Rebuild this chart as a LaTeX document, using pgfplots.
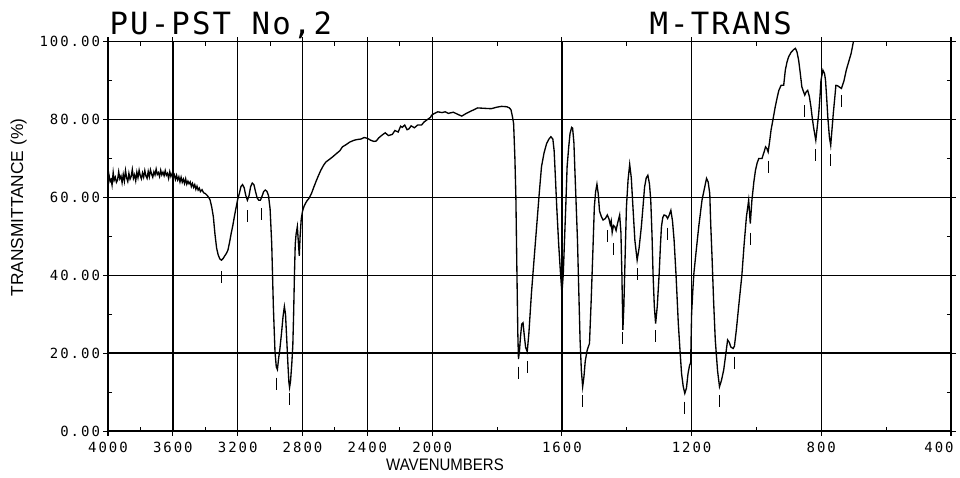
\documentclass[border=0pt]{standalone}
\usepackage{fontspec}
\setmainfont{Liberation Sans}
\newfontfamily\plotmono{DejaVu Sans Mono}[LetterSpace=14]
\newfontfamily\titlefont{DejaVu Sans Mono}[LetterSpace=7]
\newfontfamily\xlabfont{Liberation Sans}[FakeStretch=0.9]
\usepackage{pgfplots}
\pgfplotsset{compat=1.18}
\begin{document}
\begin{tikzpicture}
\begin{axis}[
  scale only axis, width=632.25pt, height=292pt,
  x coord trafo/.code={\pgfmathparse{ifthenelse(#1>2000,4000-#1,6000-2*#1)}},
  xmin=4000, xmax=400, ymin=0, ymax=100,
  enlargelimits=false,
  xtick={4000,3600,3200,2800,2400,2000,1600,1200,800,400},
  xticklabels={4000,3600,3200,2800,2400,2000,1600,1200,800,\makebox[0pt][r]{400\hspace{-2pt}}},
  minor xtick={3800,3400,3000,2600,2200,1800,1400,1000,600},
  ytick={0,20,40,60,80,100},
  yticklabels={0.00,20.00,40.00,60.00,80.00,100.00},
  minor ytick={10,30,50,70,90},
  /pgf/number format/assume math mode=true,
  tick label style={font=\fontsize{10.5}{12}\plotmono},
  tick align=outside, major tick length=3.5pt, minor tick length=-3pt,
  tick style={black, line width=0.8pt},
  grid=major, major grid style={black, line width=1.05pt},
  axis line style={black, line width=1.1pt},
  xticklabel style={yshift=-1pt},
  yticklabel style={xshift=1pt},
  clip=true,
]
\addplot[black, line width=1pt] coordinates {
(4000,63.6) (3994,65.8) (3987,64.1) (3981,64.6) (3975,63.2) (3968,66.4) (3962,64.4) (3955,65.2) (3948,63.9) (3941,64.5)
(3934,66.6) (3927,64.8) (3920,65.5) (3913,63.8) (3906,65.9) (3899,64.2) (3892,66.9) (3885,65.0) (3878,64.1) (3871,66.2)
(3864,64.7) (3857,65.4) (3850,67.2) (3843,64.9) (3836,65.8) (3829,64.3) (3822,66.5) (3815,65.1) (3808,67.0) (3801,65.6)
(3794,64.8) (3787,66.3) (3780,65.2) (3773,66.9) (3766,65.5) (3759,64.9) (3752,66.7) (3745,65.3) (3738,67.1) (3731,66.0)
(3724,65.2) (3717,66.6) (3710,65.8) (3703,67.3) (3696,65.9) (3689,66.4) (3682,65.4) (3675,67.0) (3668,65.8) (3661,66.5)
(3654,65.6) (3647,66.9) (3640,65.7) (3633,66.2) (3626,64.9) (3619,66.6) (3612,65.4) (3605,66.1) (3598,65.0) (3591,65.8)
(3584,64.6) (3577,65.7) (3570,64.5) (3563,65.3) (3556,64.0) (3549,65.2) (3542,63.9) (3535,64.7) (3528,63.6) (3521,64.8)
(3514,63.4) (3507,64.2) (3500,63.5) (3493,64.0) (3486,62.8) (3479,63.6) (3472,62.6) (3465,63.3) (3458,62.1) (3451,62.9)
(3444,61.9) (3437,62.4) (3430,61.5) (3420,62.0) (3410,61.2) (3400,61.0)
(3390,60.6) (3380,60.1) (3370,59.3) (3360,57.5) (3350,55.0) (3340,50.5) (3330,47.0) (3320,45.2) (3310,44.2)
(3300,43.9) (3290,44.3) (3280,45.0) (3270,45.6) (3260,46.5) (3250,48.5) (3240,50.8) (3230,52.8) (3220,55.2) (3210,57.4)
(3200,59.5) (3190,61.0) (3180,62.8) (3170,63.3) (3160,62.5) (3150,60.5) (3140,59.3) (3130,60.5) (3120,62.8) (3110,63.7)
(3100,63.3) (3090,61.5) (3080,59.9) (3070,59.3) (3060,59.3) (3050,60.3) (3040,61.5) (3030,61.9) (3020,61.6) (3010,60.5)
(3000,57.0) (2990,48.0) (2980,32.0) (2970,20.5) (2962,16.5) (2955,15.8) (2948,18.5) (2940,21.0) (2930,25.0) (2920,29.5)
(2912,32.0) (2905,30.0) (2898,24.0) (2890,17.0) (2884,12.5) (2880,11.2) (2874,12.8) (2866,17.5) (2860,22.0) (2855,30.0)
(2850,40.0) (2845,48.0) (2840,50.5) (2832,52.5) (2825,48.0) (2820,45.0) (2815,50.0) (2808,54.5) (2800,56.5) (2790,57.8)
(2775,59.0) (2760,59.8) (2745,61.0) (2730,62.7) (2715,64.3) (2700,65.8) (2687,67.0) (2670,68.3) (2656,69.1) (2640,69.6)
(2615,70.4) (2590,71.3) (2570,72.0) (2554,73.0) (2530,73.6) (2510,74.2) (2482,74.7) (2460,74.9) (2440,75.0) (2420,75.4)
(2400,75.2) (2380,74.7) (2360,74.4) (2345,74.5) (2330,75.3) (2310,76.0) (2290,76.6) (2270,75.9) (2246,76.2) (2230,77.2)
(2210,76.8) (2195,78.3) (2185,78.0) (2170,78.6) (2155,77.4) (2144,77.6) (2130,78.4) (2110,77.9) (2090,78.6) (2066,78.6)
(2050,79.4) (2030,80.0) (2010,80.6) (2004,81.1) (1995,81.5) (1983,82.0) (1970,81.8) (1960,82.0) (1950,81.6) (1935,81.9)
(1920,81.3) (1909,80.9) (1895,81.6) (1880,82.2) (1860,83.0) (1840,82.9) (1818,82.8) (1800,83.2) (1786,83.4) (1770,83.3)
(1762,83.0) (1757,82.5) (1752,80.5) (1749,79.0) (1745,70.0) (1742,60.0) (1739,42.0) (1736,25.0) (1734,18.5) (1731,20.5)
(1728,24.0) (1724,27.5) (1720,27.8) (1716,24.5) (1712,21.5) (1707,20.4) (1702,25.0) (1694,35.4) (1686,44.0) (1678,52.5)
(1670,61.0) (1663,67.9) (1655,71.5) (1647,73.9) (1640,75.0) (1634,75.6) (1628,75.0) (1624,72.0) (1620,65.0) (1616,57.6)
(1610,48.0) (1605,41.3) (1600,35.4) (1596,40.0) (1592,49.0) (1588,58.0) (1584,67.9) (1579,73.0) (1575,76.4) (1570,78.0)
(1567,77.8) (1563,74.0) (1560,67.0) (1556,58.0) (1552,49.0) (1548,36.0) (1544,23.4) (1540,15.5) (1536,11.4) (1532,14.0)
(1528,18.0) (1522,20.8) (1515,22.5) (1510,33.0) (1505,45.0) (1500,57.6) (1496,61.5) (1492,63.4) (1488,61.0) (1484,56.5)
(1478,55.0) (1473,54.2) (1466,54.6) (1460,55.5) (1455,54.5) (1451,53.0) (1448,54.0) (1445,51.0) (1441,52.8) (1437,52.5)
(1433,51.5) (1428,53.5) (1422,55.5) (1418,51.0) (1415,40.0) (1412,26.0) (1409,32.0) (1405,45.0) (1401,57.6) (1396,64.5)
(1391,68.5) (1386,65.0) (1381,57.6) (1375,49.0) (1368,43.9) (1362,47.0) (1355,52.5) (1350,57.5) (1345,62.7) (1340,65.0)
(1335,65.7) (1330,63.5) (1326,59.3) (1322,50.0) (1319,40.5) (1315,32.0) (1311,27.6) (1306,32.0) (1300,40.5) (1296,48.0)
(1293,52.5) (1289,54.8) (1285,55.5) (1279,55.3) (1274,54.6) (1269,55.5) (1264,56.7) (1259,54.0) (1254,49.0) (1248,40.0)
(1241,27.6) (1236,21.0) (1231,14.8) (1226,11.5) (1221,9.7) (1216,11.0) (1211,14.8) (1206,17.0) (1203,17.4) (1200,30.2)
(1196,36.5) (1193,40.5) (1185,47.0) (1178,52.5) (1168,59.3) (1160,62.5) (1154,64.9) (1149,64.0) (1144,61.0) (1141,53.0)
(1137,44.7) (1132,33.0) (1127,23.4) (1120,15.5) (1114,11.4) (1108,13.0) (1101,15.7) (1095,19.5) (1089,23.4) (1084,22.8)
(1079,21.6) (1072,21.2) (1068,21.8) (1062,26.0) (1055,31.9) (1045,40.0) (1038,48.0) (1031,55.0) (1024,59.3) (1019,53.3)
(1014,59.3) (1008,64.0) (1003,67.0) (998,68.8) (993,70.0) (983,70.0) (976,71.8) (972,73.0) (968,72.6) (964,71.7)
(960,74.0) (955,77.3) (948,80.5) (942,83.3) (936,85.7) (931,87.5) (924,88.8) (916,88.8) (911,92.7) (906,94.7)
(901,96.1) (893,97.3) (885,98.0) (880,98.3) (875,97.4) (870,95.3) (865,92.0) (860,88.4) (855,87.2) (851,86.3)
(846,87.2) (842,87.5) (837,86.0) (832,83.3) (828,80.5) (824,78.1) (817,74.7) (812,78.5) (808,81.6) (804,86.0)
(801,90.1) (795,92.7) (790,91.8) (787,90.1) (783,85.0) (780,80.7) (775,75.5) (771,73.4) (767,77.5) (763,81.6)
(758,86.0) (755,88.8) (750,88.7) (745,88.4) (738,88.0) (730,90.0) (723,92.7) (715,95.0) (708,97.0) (701,100.0)
};
\addplot[only marks, mark=|, mark size=4.5pt, mark options={black, line width=0.8pt}] coordinates {
(3302,39.5) (3138,55.2) (3056,55.7) (2960,12.2) (2883,8.3) (1735,15.0) (1707,16.5) (1536,7.7)
(1460,50.0) (1441,46.8) (1412,23.9) (1368,40.3) (1311,24.3) (1274,50.7) (1221,6.0) (1114,7.7)
(1068,17.6) (1019,49.4) (964,67.9) (851,82.2) (817,70.9) (771,69.6) (738,84.8)
};
\end{axis}
\node[anchor=base west, inner sep=0pt, font=\fontsize{23}{26}\titlefont] at (1pt,297.5pt) {PU-PST No,2};
\node[anchor=base west, inner sep=0pt, font=\fontsize{23}{26}\titlefont] at (406pt,297.5pt) {M-TRANS};
\node[rotate=90, inner sep=0pt, font=\fontsize{13}{15}\selectfont] at (-67.1pt,167.6pt) {TRANSMITTANCE (\%)};
\node[inner sep=0pt, font=\fontsize{12.5}{14}\xlabfont] at (252.75pt,-25.5pt) {WAVENUMBERS};
\pgfresetboundingbox
\path[use as bounding box] (-81pt,-34.5pt) rectangle (639pt,323.3pt);
\end{tikzpicture}
\end{document}
